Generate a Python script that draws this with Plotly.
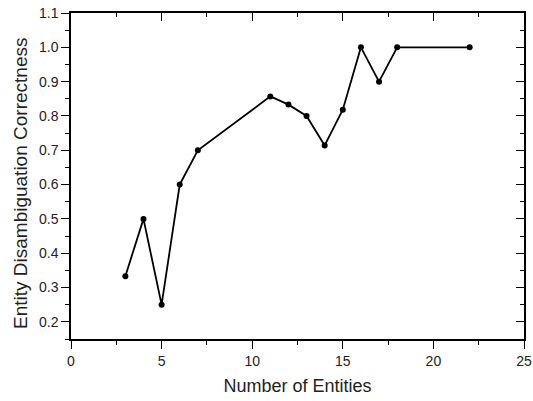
import plotly.graph_objects as go

entities = [3, 4, 5, 6, 7, 11, 12, 13, 14, 15, 16, 17, 18, 22]
correctness = [0.333, 0.5, 0.25, 0.6, 0.7, 0.857, 0.833, 0.8, 0.714, 0.818, 1.0, 0.9, 1.0, 1.0]
x_ticks = [0, 5, 10, 15, 20, 25]
y_ticks = [0.2, 0.3, 0.4, 0.5, 0.6, 0.7, 0.8, 0.9, 1.0, 1.1]
y_ticklabels = ["0.2", "0.3", "0.4", "0.5", "0.6", "0.7", "0.8", "0.9", "1.0", "1.1"]

font = "Arial, Liberation Sans, sans-serif"

fig = go.Figure()
fig.add_trace(go.Scatter(
    x=entities, y=correctness, mode="lines+markers",
    line=dict(color="black", width=1.8),
    marker=dict(color="black", size=6),
    showlegend=False, cliponaxis=False,
))
fig.add_trace(go.Scatter(x=[None], y=[None], xaxis="x2", yaxis="y2", showlegend=False))

common = dict(showline=True, linecolor="black", linewidth=1.5, showgrid=False, zeroline=False,
              tickcolor="black", tickwidth=1.2, automargin=False)

fig.update_layout(
    width=533, height=401,
    margin=dict(l=71, r=9, t=13, b=62),
    plot_bgcolor="white", paper_bgcolor="white",
    font=dict(family=font, color="#222"),
    xaxis=dict(range=[0, 25], tickvals=x_ticks, ticks="outside", ticklen=8,
               minor=dict(dtick=2.5, tick0=0, ticks="outside", ticklen=4, tickcolor="black", tickwidth=1.2),
               title=dict(text="Number of Entities", font=dict(size=18, family=font), standoff=12),
               tickfont=dict(size=14, family=font), **common),
    yaxis=dict(range=[0.15, 1.1], tickvals=y_ticks, ticktext=y_ticklabels,
               ticks="outside", ticklen=8,
               minor=dict(dtick=0.05, tick0=0.15, ticks="outside", ticklen=4, tickcolor="black", tickwidth=1.2),
               tickfont=dict(size=14, family=font), **common),
    xaxis2=dict(overlaying="x", side="top", range=[0, 25], tickvals=x_ticks,
                showticklabels=False, ticks="inside", ticklen=8,
                minor=dict(dtick=2.5, tick0=0, ticks="inside", ticklen=4, tickcolor="black", tickwidth=1.2),
                **common),
    yaxis2=dict(overlaying="y", side="right", range=[0.15, 1.1], tickvals=y_ticks,
                showticklabels=False, ticks="inside", ticklen=8,
                minor=dict(dtick=0.05, tick0=0.15, ticks="inside", ticklen=4, tickcolor="black", tickwidth=1.2),
                **common),
    annotations=[dict(text="Entity Disambiguation Correctness", textangle=-90,
                      xref="paper", yref="paper", x=-0.1126, y=0.4785,
                      xanchor="center", yanchor="middle", showarrow=False,
                      font=dict(size=19, family=font, color="#222"))],
)

fig.write_html("out.html", config={"displayModeBar": False},
               post_script="document.body.style.margin='0';document.body.style.overflow='hidden';")
